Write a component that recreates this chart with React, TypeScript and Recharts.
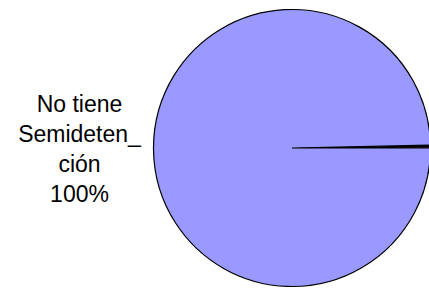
import { Cell, Pie, PieChart } from "recharts";

const categories = ["Sí tiene Semidetención", "No contesta", "No tiene Semideten_ción"];
const values = [0.2, 0.13, 99.67];
const colors = ["#993366", "#FFFFCC", "#9999FF"];
const labelLines = ["No tiene", "Semideten_", "ción"];

const data = categories.map((name, i) => ({ name, value: values[i] }));

const RAD = Math.PI / 180;

function renderLabel(props: any) {
  const { cx, cy, midAngle, outerRadius, index, percent } = props;
  if (index !== 2) return null;
  const r = outerRadius + 74;
  const x = cx + r * Math.cos(-midAngle * RAD);
  const y = cy + r * Math.sin(-midAngle * RAD);
  const step = 30;
  const lines = [...labelLines, `${Math.round(percent * 100)}%`];
  return (
    <text
      x={x}
      y={y}
      textAnchor="middle"
      fill="#000"
      fontSize={23}
      fontFamily="'Liberation Sans', Arial, sans-serif"
    >
      {lines.map((line, i) => (
        <tspan key={i} x={x} y={y - 38 + i * step}>
          {line}
        </tspan>
      ))}
    </text>
  );
}

export default function App() {
  return (
    <div style={{ position: "absolute", left: 0, top: 0, background: "#fff" }}>
      <PieChart width={429} height={293} margin={{ top: 0, right: 0, bottom: 0, left: 0 }}>
        <Pie
          data={data}
          dataKey="value"
          nameKey="name"
          cx={292}
          cy={148}
          outerRadius={138.5}
          startAngle={0}
          endAngle={360}
          stroke="#000"
          strokeWidth={1.2}
          label={renderLabel}
          labelLine={false}
          isAnimationActive={false}
        >
          {data.map((d, i) => (
            <Cell key={d.name} fill={colors[i]} />
          ))}
        </Pie>
      </PieChart>
    </div>
  );
}
